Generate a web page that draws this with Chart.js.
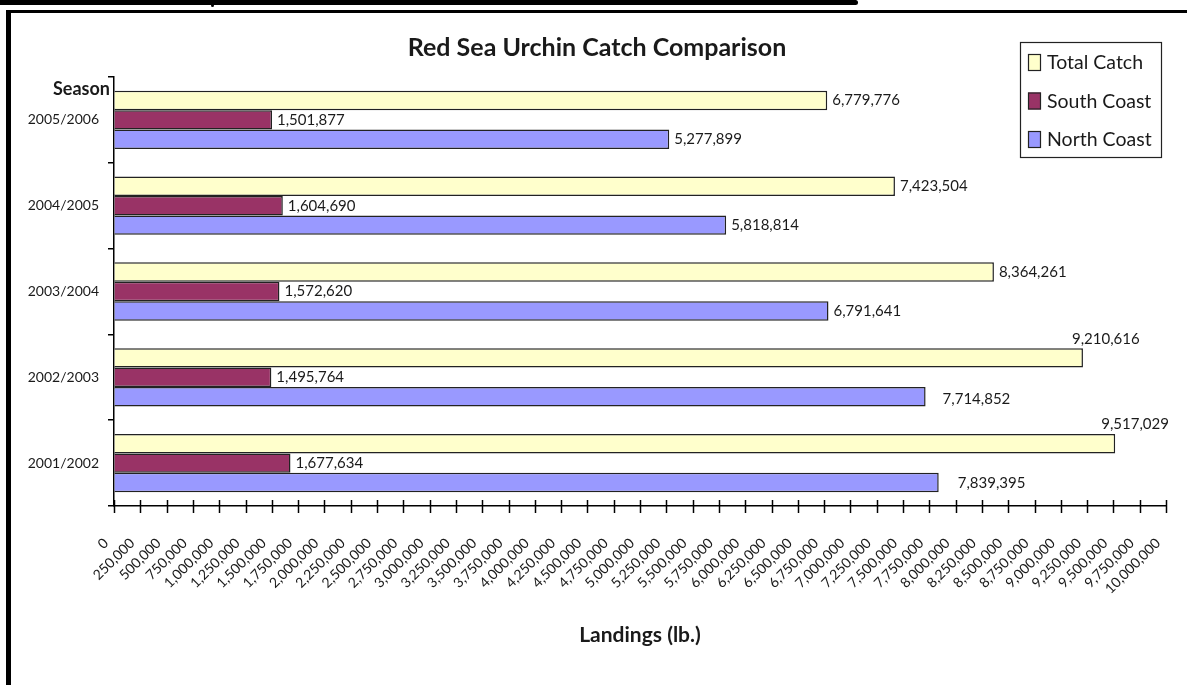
<!DOCTYPE html>
<html>
<head>
<meta charset="utf-8">
<script src="https://cdn.jsdelivr.net/npm/chart.js@4.4.1/dist/chart.umd.min.js"></script>
<style>
    html, body { margin: 0; padding: 0; background: #fff; }
    #wrap { position: relative; width: 1187px; height: 685px; overflow: hidden; }
    #chart { position: absolute; left: 0; top: 0; }
    .rule { position: absolute; background: #000; }
</style>
</head>
<body>
<div id="wrap">
    <canvas id="chart" width="1187" height="685"></canvas>
    <!-- trozos del marco del documento original -->
    <div class="rule" style="left:0;top:0;width:858px;height:5px;border-radius:0 3px 3px 0"></div>
    <div class="rule" style="left:211px;top:4px;width:3px;height:3px;border-radius:2px"></div>
    <div class="rule" style="left:6px;top:10px;width:1181px;height:3px"></div>
    <div class="rule" style="left:6px;top:10px;width:5px;height:675px"></div>
</div>
<script>
    // Datos
    const seasons = ['2005/2006', '2004/2005', '2003/2004', '2002/2003', '2001/2002'];
    const totalCatch = [6779776, 7423504, 8364261, 9210616, 9517029];
    const southCoast = [1501877, 1604690, 1572620, 1495764, 1677634];
    const northCoast = [5277899, 5818814, 6791641, 7714852, 7839395];
    const xMin = 0;
    const xMax = 10000000;
    const xStep = 250000;
    const chartTitle = 'Red Sea Urchin Catch Comparison';

    const FONT = 'Lato, "Open Sans", sans-serif';
    const INK = '#1a1a1a';
    const fmt = (n) => Number(n).toLocaleString('en-US');

    // Ajustes de posición de algunas etiquetas (igual que en el original)
    const labelNudge = {
        '0:3': [-16, -19],
        '0:4': [-19, -19],
        '2:3': [12, 2],
        '2:4': [14, 1]
    };

    // Etiquetas de valor al final de cada barra
    const valueLabels = {
        id: 'valueLabels',
        afterDatasetsDraw(chart) {
            const ctx = chart.ctx;
            ctx.save();
            ctx.font = '15px ' + FONT;
            ctx.fillStyle = INK;
            ctx.textAlign = 'left';
            ctx.textBaseline = 'middle';
            chart.data.datasets.forEach((ds, di) => {
                const meta = chart.getDatasetMeta(di);
                meta.data.forEach((bar, i) => {
                    const nudge = labelNudge[di + ':' + i] || [0, 0];
                    ctx.fillText(fmt(ds.data[i]), bar.x + 5 + nudge[0], bar.y + nudge[1]);
                });
            });
            ctx.restore();
        }
    };

    // Título, leyenda, rótulo "Season" y marcas del eje X que cruzan la línea
    const extras = {
        id: 'extras',
        afterDraw(chart) {
            const ctx = chart.ctx;
            const area = chart.chartArea;
            const xs = chart.scales.x;
            ctx.save();

            ctx.strokeStyle = '#000';
            ctx.lineWidth = 1.5;
            xs.ticks.forEach(t => {
                const px = Math.round(xs.getPixelForValue(t.value)) + 0.5;
                ctx.beginPath();
                ctx.moveTo(px, area.bottom - 6);
                ctx.lineTo(px, area.bottom + 7);
                ctx.stroke();
            });

            ctx.fillStyle = INK;
            ctx.textBaseline = 'middle';
            ctx.textAlign = 'center';
            ctx.font = 'bold 25px ' + FONT;
            ctx.fillText(chartTitle, 597, 48);

            ctx.font = 'bold 18px ' + FONT;
            ctx.textAlign = 'right';
            ctx.fillText('Season', area.left - 4, area.top + 12);

            // leyenda
            const bx = 1020, by = 42, bw = 141, bh = 115;
            ctx.lineWidth = 1.2;
            ctx.strokeStyle = '#222';
            ctx.strokeRect(bx + 0.5, by + 0.5, bw, bh);
            ctx.font = '19.5px ' + FONT;
            ctx.textAlign = 'left';
            chart.data.datasets.forEach((ds, i) => {
                const cy = by + 20 + i * 38.5;
                ctx.fillStyle = ds.backgroundColor;
                ctx.fillRect(bx + 8, cy - 8, 13, 17);
                ctx.strokeStyle = '#222';
                ctx.strokeRect(bx + 8.5, cy - 7.5, 12, 16);
                ctx.fillStyle = INK;
                ctx.fillText(ds.label, bx + 27, cy + 1);
            });
            ctx.restore();
        }
    };

    new Chart(document.getElementById('chart'), {
        type: 'bar',
        data: {
            labels: seasons,
            datasets: [
                { label: 'Total Catch', data: totalCatch, backgroundColor: '#FFFFCC' },
                { label: 'South Coast', data: southCoast, backgroundColor: '#993366' },
                { label: 'North Coast', data: northCoast, backgroundColor: '#9999FF' }
            ]
        },
        options: {
            indexAxis: 'y',
            responsive: false,
            animation: false,
            layout: { padding: { top: 77, right: 21, bottom: 0, left: 0 } },
            datasets: {
                bar: {
                    borderColor: '#222',
                    borderWidth: 1.5,
                    barPercentage: 1,
                    categoryPercentage: 0.68
                }
            },
            scales: {
                x: {
                    min: xMin,
                    max: xMax,
                    border: { color: '#000', width: 1.5 },
                    // las marcas se pintan en el plugin; aquí solo reservan espacio
                    grid: { drawOnChartArea: false, color: 'rgba(0,0,0,0)', tickLength: 27 },
                    ticks: {
                        stepSize: xStep,
                        autoSkip: false,
                        minRotation: 45,
                        maxRotation: 45,
                        padding: 2,
                        labelOffset: -8,
                        color: INK,
                        font: { family: FONT, size: 14 },
                        callback: (v) => fmt(v)
                    },
                    title: {
                        display: true,
                        text: 'Landings (lb.)',
                        color: INK,
                        font: { family: FONT, size: 21, weight: 'bold' },
                        padding: { top: 0, bottom: 37 }
                    },
                    afterFit: (s) => { s.height = 179; }
                },
                y: {
                    border: { color: '#000', width: 1.5 },
                    grid: { drawOnChartArea: false, color: '#000', lineWidth: 1.5, tickLength: 6 },
                    ticks: { padding: 9, color: INK, font: { family: FONT, size: 14 } },
                    afterFit: (s) => { s.width = 114; }
                }
            },
            plugins: {
                legend: { display: false },
                tooltip: { enabled: false },
                title: { display: false }
            }
        },
        plugins: [valueLabels, extras]
    });
</script>
</body>
</html>
